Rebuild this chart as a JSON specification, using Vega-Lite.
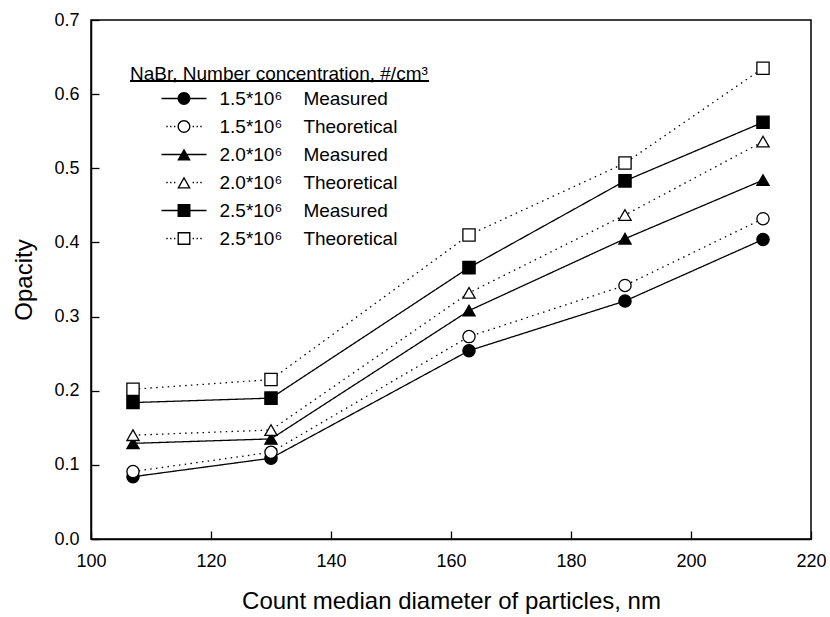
{
  "$schema": "https://vega.github.io/schema/vega-lite/v6.json",
  "width": 720,
  "height": 519,
  "autosize": {"type": "none"},
  "padding": {"left": 91, "top": 20, "right": 19, "bottom": 78},
  "background": "white",
  "config": {
    "font": "Liberation Sans",
    "view": {"stroke": "black", "strokeWidth": 1.5},
    "axis": {
      "grid": false,
      "domainColor": "black",
      "domainWidth": 1.5,
      "tickColor": "black",
      "tickWidth": 1.3,
      "tickSize": -8,
      "labelColor": "black",
      "labelFont": "Liberation Sans",
      "labelFontSize": 18,
      "titleColor": "black",
      "titleFont": "Liberation Sans",
      "titleFontSize": 24,
      "titleFontWeight": "normal"
    }
  },
  "datasets": {
    "pts": [
      {"d": 107, "v": 0.084, "s": "1.5*10\u2076\u00a0\u00a0\u00a0\u00a0Measured"},
      {"d": 130, "v": 0.109, "s": "1.5*10\u2076\u00a0\u00a0\u00a0\u00a0Measured"},
      {"d": 163, "v": 0.254, "s": "1.5*10\u2076\u00a0\u00a0\u00a0\u00a0Measured"},
      {"d": 189, "v": 0.321, "s": "1.5*10\u2076\u00a0\u00a0\u00a0\u00a0Measured"},
      {"d": 212, "v": 0.404, "s": "1.5*10\u2076\u00a0\u00a0\u00a0\u00a0Measured"},
      {"d": 107, "v": 0.091, "s": "1.5*10\u2076\u00a0\u00a0\u00a0\u00a0Theoretical"},
      {"d": 130, "v": 0.117, "s": "1.5*10\u2076\u00a0\u00a0\u00a0\u00a0Theoretical"},
      {"d": 163, "v": 0.273, "s": "1.5*10\u2076\u00a0\u00a0\u00a0\u00a0Theoretical"},
      {"d": 189, "v": 0.342, "s": "1.5*10\u2076\u00a0\u00a0\u00a0\u00a0Theoretical"},
      {"d": 212, "v": 0.432, "s": "1.5*10\u2076\u00a0\u00a0\u00a0\u00a0Theoretical"},
      {"d": 107, "v": 0.129, "s": "2.0*10\u2076\u00a0\u00a0\u00a0\u00a0Measured"},
      {"d": 130, "v": 0.135, "s": "2.0*10\u2076\u00a0\u00a0\u00a0\u00a0Measured"},
      {"d": 163, "v": 0.308, "s": "2.0*10\u2076\u00a0\u00a0\u00a0\u00a0Measured"},
      {"d": 189, "v": 0.405, "s": "2.0*10\u2076\u00a0\u00a0\u00a0\u00a0Measured"},
      {"d": 212, "v": 0.484, "s": "2.0*10\u2076\u00a0\u00a0\u00a0\u00a0Measured"},
      {"d": 107, "v": 0.140, "s": "2.0*10\u2076\u00a0\u00a0\u00a0\u00a0Theoretical"},
      {"d": 130, "v": 0.147, "s": "2.0*10\u2076\u00a0\u00a0\u00a0\u00a0Theoretical"},
      {"d": 163, "v": 0.332, "s": "2.0*10\u2076\u00a0\u00a0\u00a0\u00a0Theoretical"},
      {"d": 189, "v": 0.437, "s": "2.0*10\u2076\u00a0\u00a0\u00a0\u00a0Theoretical"},
      {"d": 212, "v": 0.536, "s": "2.0*10\u2076\u00a0\u00a0\u00a0\u00a0Theoretical"},
      {"d": 107, "v": 0.184, "s": "2.5*10\u2076\u00a0\u00a0\u00a0\u00a0Measured"},
      {"d": 130, "v": 0.190, "s": "2.5*10\u2076\u00a0\u00a0\u00a0\u00a0Measured"},
      {"d": 163, "v": 0.366, "s": "2.5*10\u2076\u00a0\u00a0\u00a0\u00a0Measured"},
      {"d": 189, "v": 0.483, "s": "2.5*10\u2076\u00a0\u00a0\u00a0\u00a0Measured"},
      {"d": 212, "v": 0.562, "s": "2.5*10\u2076\u00a0\u00a0\u00a0\u00a0Measured"},
      {"d": 107, "v": 0.202, "s": "2.5*10\u2076\u00a0\u00a0\u00a0\u00a0Theoretical"},
      {"d": 130, "v": 0.215, "s": "2.5*10\u2076\u00a0\u00a0\u00a0\u00a0Theoretical"},
      {"d": 163, "v": 0.410, "s": "2.5*10\u2076\u00a0\u00a0\u00a0\u00a0Theoretical"},
      {"d": 189, "v": 0.507, "s": "2.5*10\u2076\u00a0\u00a0\u00a0\u00a0Theoretical"},
      {"d": 212, "v": 0.635, "s": "2.5*10\u2076\u00a0\u00a0\u00a0\u00a0Theoretical"}
    ]
  },
  "data": {"name": "pts"},
  "encoding": {
    "x": {
      "field": "d", "type": "quantitative",
      "scale": {"domain": [100, 220], "nice": false, "zero": false},
      "axis": {
        "title": "Count median diameter of particles, nm",
        "values": [100, 120, 140, 160, 180, 200, 220],
        "labelPadding": 21,
        "titlePadding": 19,
        "labelFlush": false
      }
    },
    "y": {
      "field": "v", "type": "quantitative",
      "scale": {"domain": [0, 0.7], "nice": false},
      "axis": {
        "title": "Opacity",
        "values": [0, 0.1, 0.2, 0.3, 0.4, 0.5, 0.6, 0.7],
        "format": ".1f",
        "labelPadding": 20,
        "titlePadding": 17,
        "labelFlush": false
      }
    }
  },
  "layer": [
    {
      "mark": {"type": "line", "color": "black", "strokeWidth": 1.3},
      "encoding": {
        "detail": {"field": "s"},
        "strokeDash": {
          "field": "s", "type": "nominal",
          "scale": {
            "domain": [
              "1.5*10\u2076\u00a0\u00a0\u00a0\u00a0Measured",
              "1.5*10\u2076\u00a0\u00a0\u00a0\u00a0Theoretical",
              "2.0*10\u2076\u00a0\u00a0\u00a0\u00a0Measured",
              "2.0*10\u2076\u00a0\u00a0\u00a0\u00a0Theoretical",
              "2.5*10\u2076\u00a0\u00a0\u00a0\u00a0Measured",
              "2.5*10\u2076\u00a0\u00a0\u00a0\u00a0Theoretical"
            ],
            "range": [[1, 0], [1.5, 4.3], [1, 0], [1.5, 4.3], [1, 0], [1.5, 4.3]]
          },
          "legend": null
        }
      }
    },
    {
      "mark": {"type": "point", "filled": false, "stroke": "black", "strokeWidth": 1.3, "size": 150, "opacity": 1},
      "encoding": {
        "shape": {
          "field": "s", "type": "nominal",
          "scale": {
            "domain": [
              "1.5*10\u2076\u00a0\u00a0\u00a0\u00a0Measured",
              "1.5*10\u2076\u00a0\u00a0\u00a0\u00a0Theoretical",
              "2.0*10\u2076\u00a0\u00a0\u00a0\u00a0Measured",
              "2.0*10\u2076\u00a0\u00a0\u00a0\u00a0Theoretical",
              "2.5*10\u2076\u00a0\u00a0\u00a0\u00a0Measured",
              "2.5*10\u2076\u00a0\u00a0\u00a0\u00a0Theoretical"
            ],
            "range": ["circle", "circle", "triangle-up", "triangle-up", "square", "square"]
          },
          "legend": null
        },
        "fill": {
          "field": "s", "type": "nominal",
          "scale": {
            "domain": [
              "1.5*10\u2076\u00a0\u00a0\u00a0\u00a0Measured",
              "1.5*10\u2076\u00a0\u00a0\u00a0\u00a0Theoretical",
              "2.0*10\u2076\u00a0\u00a0\u00a0\u00a0Measured",
              "2.0*10\u2076\u00a0\u00a0\u00a0\u00a0Theoretical",
              "2.5*10\u2076\u00a0\u00a0\u00a0\u00a0Measured",
              "2.5*10\u2076\u00a0\u00a0\u00a0\u00a0Theoretical"
            ],
            "range": ["black", "white", "black", "white", "black", "white"]
          },
          "legend": null
        }
      }
    },
    {
      "mark": {"type": "point", "filled": true, "color": "black", "strokeWidth": 0, "opacity": 0},
      "encoding": {
        "shape": {
          "field": "s", "type": "nominal",
          "scale": {
            "domain": [
              "1.5*10\u2076\u00a0\u00a0\u00a0\u00a0Measured",
              "1.5*10\u2076\u00a0\u00a0\u00a0\u00a0Theoretical",
              "2.0*10\u2076\u00a0\u00a0\u00a0\u00a0Measured",
              "2.0*10\u2076\u00a0\u00a0\u00a0\u00a0Theoretical",
              "2.5*10\u2076\u00a0\u00a0\u00a0\u00a0Measured",
              "2.5*10\u2076\u00a0\u00a0\u00a0\u00a0Theoretical"
            ],
            "range": [
              "M-2.65,-0.08H2.65V0.08H-2.65ZM0.76,0A0.76,0.76,0,1,1,-0.76,0A0.76,0.76,0,1,1,0.76,0Z",
              "M-2.08,-0.08h0.16v0.16h-0.16ZM-1.63,-0.08h0.16v0.16h-0.16ZM-1.18,-0.08h0.16v0.16h-0.16ZM1.02,-0.08h0.16v0.16h-0.16ZM1.47,-0.08h0.16v0.16h-0.16ZM1.92,-0.08h0.16v0.16h-0.16ZM0.76,0A0.76,0.76,0,1,1,-0.76,0A0.76,0.76,0,1,1,0.76,0ZM0.6,0A0.6,0.6,0,1,0,-0.6,0A0.6,0.6,0,1,0,0.6,0Z",
              "M-2.65,-0.08H2.65V0.08H-2.65ZM0,-0.7L0.8,0.7L-0.8,0.7Z",
              "M-2.08,-0.08h0.16v0.16h-0.16ZM-1.63,-0.08h0.16v0.16h-0.16ZM-1.18,-0.08h0.16v0.16h-0.16ZM1.02,-0.08h0.16v0.16h-0.16ZM1.47,-0.08h0.16v0.16h-0.16ZM1.92,-0.08h0.16v0.16h-0.16ZM0,-0.7L0.8,0.7L-0.8,0.7ZM0,-0.392L-0.536,0.546L0.536,0.546Z",
              "M-2.65,-0.08H2.65V0.08H-2.65ZM-0.76,-0.76H0.76V0.76H-0.76Z",
              "M-2.08,-0.08h0.16v0.16h-0.16ZM-1.63,-0.08h0.16v0.16h-0.16ZM-1.18,-0.08h0.16v0.16h-0.16ZM1.02,-0.08h0.16v0.16h-0.16ZM1.47,-0.08h0.16v0.16h-0.16ZM1.92,-0.08h0.16v0.16h-0.16ZM-0.76,-0.76H0.76V0.76H-0.76ZM-0.6,-0.6V0.6H0.6V-0.6Z"
            ]
          },
          "legend": {
            "orient": "none",
            "legendX": 39,
            "legendY": 45,
            "title": "NaBr, Number concentration, #/cm\u00b3",
            "titleFont": "Liberation Sans",
            "titleFontSize": 19,
            "titleFontWeight": "normal",
            "titleColor": "black",
            "titleLimit": 500,
            "titlePadding": 5,
            "labelFont": "Liberation Sans",
            "labelFontSize": 19,
            "labelColor": "black",
            "labelLimit": 500,
            "labelOffset": 26,
            "symbolOffset": 44.5,
            "symbolSize": 289,
            "symbolStrokeWidth": 0,
            "symbolFillColor": "black",
            "symbolOpacity": 1,
            "rowPadding": 8,
            "padding": 0,
            "encode": {
              "symbols": {
                "update": {
                  "fill": {"value": "black"},
                  "stroke": {"value": "transparent"},
                  "opacity": {"value": 1}
                }
              }
            }
          }
        }
      }
    },
    {
      "mark": {"type": "rule", "color": "black", "strokeWidth": 1.3},
      "encoding": {
        "x": {"datum": 106.5},
        "x2": {"datum": 156.3},
        "y": {"datum": 0.6177}
      }
    }
  ],
  "resolve": {"scale": {"shape": "independent"}}
}
